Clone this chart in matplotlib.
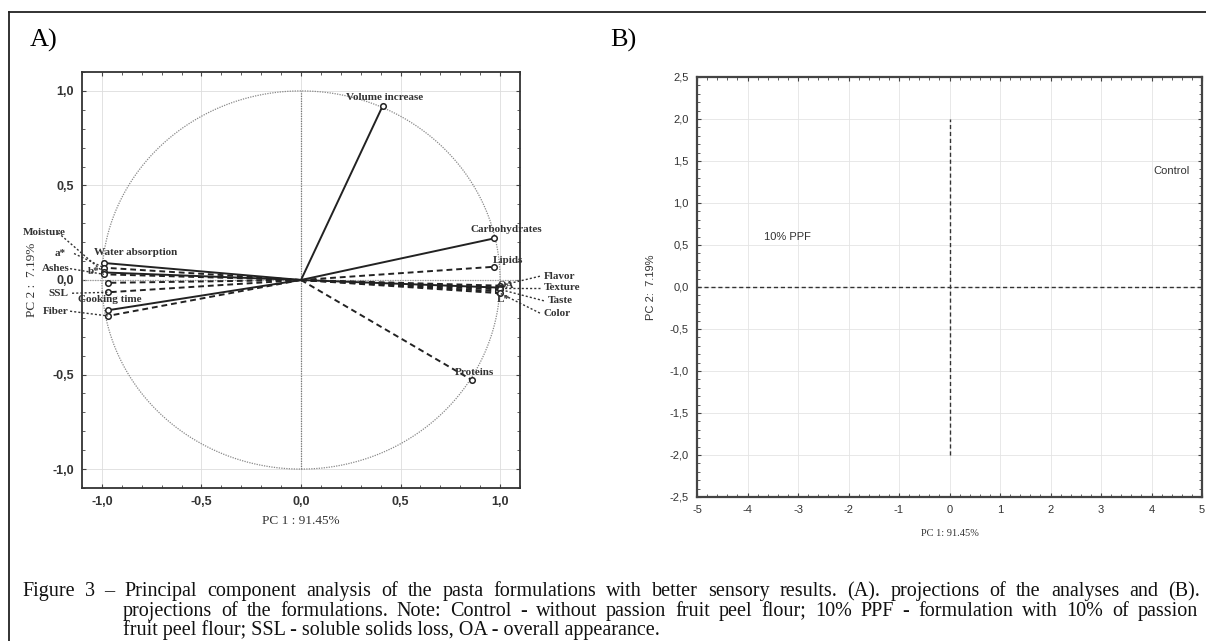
import numpy as np
import matplotlib.pyplot as plt
from matplotlib.ticker import MultipleLocator, FuncFormatter

# variable loadings (panel A)
var_names = ["Volume increase", "Carbohydrates", "Lipids", "OA", "L*", "Flavor", "Texture",
             "Taste", "Color", "Proteins", "Water absorption", "a*", "Moisture", "Ashes",
             "b*", "SSL", "Cooking time", "Fiber"]
pc1 = [0.41, 0.97, 0.97, 0.99, 0.99, 1.00, 1.00, 1.00, 1.00, 0.86,
       -0.99, -0.99, -0.99, -0.99, -0.97, -0.97, -0.97, -0.97]
pc2 = [0.92, 0.22, 0.07, -0.04, -0.06, -0.03, -0.04, -0.05, -0.07, -0.53,
       0.09, 0.065, 0.04, 0.03, -0.015, -0.065, -0.16, -0.19]

# formulation scores (panel B)
form_names = ["Control", "10% PPF"]
form_pc1 = [4.4, -3.2]
form_pc2 = [1.38, 0.60]

pc1_var = "91.45%"
pc2_var = "7.19%"

# line styles of the vectors
solid = {"Volume increase", "Carbohydrates", "OA", "Moisture", "Cooking time", "Water absorption"}

# where each label sits (x, y, ha) and whether it gets a leader line
lab_pos = {
    "Volume increase": (0.42, 0.965, "center", False),
    "Carbohydrates": (1.03, 0.265, "center", False),
    "Lipids": (1.04, 0.105, "center", False),
    "OA": (1.07, -0.03, "right", False),
    "L*": (1.05, -0.105, "right", False),
    "Flavor": (1.22, 0.02, "left", True),
    "Texture": (1.22, -0.04, "left", True),
    "Taste": (1.24, -0.11, "left", True),
    "Color": (1.22, -0.175, "left", True),
    "Proteins": (0.87, -0.49, "center", False),
    "Water absorption": (-0.83, 0.145, "center", False),
    "a*": (-1.21, 0.14, "center", True),
    "Moisture": (-1.29, 0.25, "center", True),
    "Ashes": (-1.23, 0.06, "center", True),
    "b*": (-1.04, 0.045, "center", False),
    "SSL": (-1.22, -0.07, "center", True),
    "Cooking time": (-0.96, -0.105, "center", False),
    "Fiber": (-1.23, -0.165, "center", True),
}

serif = ["Liberation Serif", "DejaVu Serif"]
sans = ["Liberation Sans", "DejaVu Sans"]

fig = plt.figure(figsize=(12.06, 6.41), dpi=100)

# outer frame (top and left edges only)
fig.add_artist(plt.Line2D([9 / 1206, 1], [1 - 12 / 641] * 2, color="#222", lw=1.3))
fig.add_artist(plt.Line2D([9 / 1206] * 2, [0, 1 - 12 / 641], color="#222", lw=1.3))

fig.text(30 / 1206, 1 - 40 / 641, "A)", fontsize=19, family=serif, va="center")
fig.text(610 / 1206, 1 - 40 / 641, "B)", fontsize=19, family=serif, va="center")


def comma(v, p):
    s = f"{v:.1f}".replace(".", ",")
    return "0,0" if s in ("-0,0",) else s


# ---------------- panel A ----------------
axA = fig.add_axes([82 / 1206, 1 - 488 / 641, 438 / 1206, 416 / 641])
axA.set_xlim(-1.1, 1.1)
axA.set_ylim(-1.1, 1.1)
axA.xaxis.set_major_locator(MultipleLocator(0.5))
axA.yaxis.set_major_locator(MultipleLocator(0.5))
axA.xaxis.set_minor_locator(MultipleLocator(0.1))
axA.yaxis.set_minor_locator(MultipleLocator(0.1))
axA.xaxis.set_major_formatter(FuncFormatter(comma))
axA.yaxis.set_major_formatter(FuncFormatter(comma))
axA.tick_params(which="both", direction="in", top=True, right=True, color="#444")
axA.tick_params(which="major", length=3, labelsize=9, labelcolor="#333", pad=6)
axA.tick_params(which="minor", length=2)
for lab in axA.get_xticklabels() + axA.get_yticklabels():
    lab.set_family(sans)
    lab.set_fontweight("bold")
axA.grid(True, which="major", color="#dddddd", lw=0.6)
for s in axA.spines.values():
    s.set_linewidth(1.3)
    s.set_color("#333")

t = np.linspace(0, 2 * np.pi, 400)
axA.plot(np.cos(t), np.sin(t), ls=(0, (1, 1)), color="#888", lw=0.9)
axA.plot([0, 0], [-1, 1], ls=(0, (1, 1)), color="#777", lw=0.9)
axA.plot([-1.1, 1.1], [0, 0], ls=(0, (1, 1)), color="#999", lw=0.9)

for n, x, y in zip(var_names, pc1, pc2):
    ls = "-" if n in solid else (0, (3, 2))
    axA.plot([0, x], [0, y], ls=ls, color="#222", lw=1.4)
    axA.plot(x, y, "o", mfc="white", mec="#222", ms=4, mew=1.1)
    lx, ly, ha, lead = lab_pos[n]
    axA.text(lx, ly, n, ha=ha, va="center", fontsize=8, family=serif,
             fontweight="bold", color="#333", clip_on=False)
    if lead:
        ex = lx + (0.07 if lx < 0 else -0.02)
        axA.plot([ex, x], [ly, y], ls=(0, (1.5, 1.5)), color="#333", lw=1.0, clip_on=False)

axA.set_xlabel(f"PC 1 : {pc1_var}", family=serif, fontsize=9.5, color="#333", labelpad=5)
axA.set_ylabel(f"PC 2 :  {pc2_var}", family=serif, fontsize=9.5, color="#333", labelpad=10)

# ---------------- panel B ----------------
axB = fig.add_axes([697 / 1206, 1 - 497 / 641, 505 / 1206, 420 / 641])
axB.set_xlim(-5, 5)
axB.set_ylim(-2.5, 2.5)
axB.xaxis.set_major_locator(MultipleLocator(1))
axB.yaxis.set_major_locator(MultipleLocator(0.5))
axB.xaxis.set_minor_locator(MultipleLocator(0.2))
axB.yaxis.set_minor_locator(MultipleLocator(0.1))
axB.xaxis.set_major_formatter(FuncFormatter(lambda v, p: f"{v:.0f}"))
axB.yaxis.set_major_formatter(FuncFormatter(comma))
axB.tick_params(which="both", direction="in", top=True, right=True, color="#444")
axB.tick_params(which="major", length=3, labelsize=8, labelcolor="#333", pad=6)
axB.tick_params(which="minor", length=2)
for lab in axB.get_xticklabels() + axB.get_yticklabels():
    lab.set_family(sans)
axB.grid(True, which="major", color="#e4e4e4", lw=0.6)
for s in axB.spines.values():
    s.set_linewidth(1.6)
    s.set_color("#444")

axB.plot([-5, 5], [0, 0], ls=(0, (3, 2)), color="#333", lw=1.0)
axB.plot([0, 0], [-2, 2], ls=(0, (3, 2)), color="#333", lw=1.0)
for n, x, y in zip(form_names, form_pc1, form_pc2):
    axB.text(x, y, n, ha="center", va="center", fontsize=8, family=sans, color="#333")

axB.set_xlabel(f"PC 1: {pc1_var}", family=serif, fontsize=7.5, color="#333", labelpad=10)
axB.set_ylabel(f"PC 2:  {pc2_var}", family=sans, fontsize=8, color="#333", labelpad=10)

# ---------------- caption (justified lines, baselines in px) ----------------
cap = [
    (22, 1200, 596, "Figure 3 \u2013 Principal component analysis of the pasta formulations with better sensory results. (A). projections of the analyses and (B)."),
    (123, 1198, 616, "projections of the formulations. Note: Control - without passion fruit peel flour; 10% PPF - formulation with 10% of passion"),
    (123, None, 635, "fruit peel flour; SSL - soluble solids loss, OA - overall appearance."),
]
cap_fs = 14.5
fig.canvas.draw()
r = fig.canvas.get_renderer()
for x0, x1, y, s in cap:
    if x1 is None:
        fig.text(x0 / 1206, 1 - y / 641, s, fontsize=cap_fs, family=serif, va="baseline", color="#111")
        continue
    words = s.split(" ")
    ts = [fig.text(0, 1 - y / 641, w, fontsize=cap_fs, family=serif, va="baseline", color="#111")
          for w in words]
    ws = [tx.get_window_extent(r).width for tx in ts]
    gap = (x1 - x0 - sum(ws)) / (len(words) - 1)
    x = x0
    for tx, w in zip(ts, ws):
        tx.set_x(x / 1206)
        x += w + gap

fig.savefig("out.png", dpi=100)
